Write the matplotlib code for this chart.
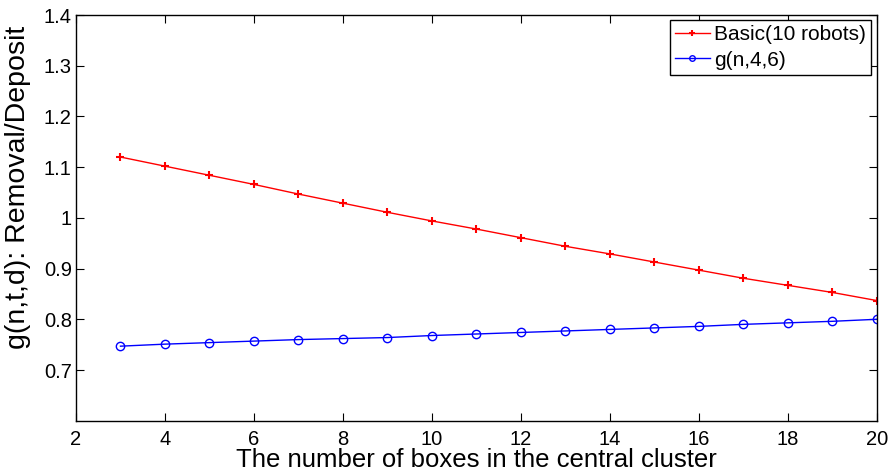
import numpy as np
import matplotlib
matplotlib.use('Agg')
import matplotlib.pyplot as plt

plt.rcParams['font.family'] = ['Liberation Sans', 'DejaVu Sans']

boxes = np.arange(3, 21)
basic = [1.120, 1.102, 1.084, 1.066, 1.047, 1.029, 1.011, 0.994, 0.978,
         0.961, 0.944, 0.929, 0.913, 0.897, 0.881, 0.867, 0.853, 0.837]
g46 = [0.747, 0.751, 0.754, 0.757, 0.760, 0.762, 0.764, 0.768, 0.771,
       0.774, 0.777, 0.780, 0.783, 0.786, 0.790, 0.793, 0.796, 0.800]

fig = plt.figure(figsize=(8.93, 4.75), dpi=100)
ax = fig.add_axes([0.0851, 0.1143, 0.8966, 0.854])

ax.plot(boxes, basic, 'r-+', lw=1, ms=6, mew=1.5, label='Basic(10 robots)')
ax.plot(boxes, g46, 'b-o', lw=1, ms=6, mfc='none', mew=1, label='g(n,4,6)')

ax.set_xlim(2, 20)
ax.set_ylim(0.6, 1.4)
ax.set_xticks(np.arange(2, 21, 2))
ax.set_yticks([0.7, 0.8, 0.9, 1.0, 1.1, 1.2, 1.3, 1.4])
ax.set_yticklabels(['0.7', '0.8', '0.9', '1', '1.1', '1.2', '1.3', '1.4'])
ax.tick_params(direction='in', top=True, right=True, labelsize=14.5, length=6)
ax.tick_params(axis='x', pad=7)
ax.tick_params(axis='y', pad=3)
for s in ax.spines.values():
    s.set_linewidth(1)

ax.set_xlabel('The number of boxes in the central cluster', fontsize=18.5, labelpad=-1)
ax.set_ylabel('g(n,t,d): Removal/Deposit', fontsize=20.5)
ax.yaxis.set_label_coords(-0.056, 0.574)

leg = ax.legend(loc='upper right', fontsize=15, fancybox=False, framealpha=1,
                edgecolor='black', borderaxespad=0.25, handlelength=1.7,
                borderpad=0.25, labelspacing=0.3, handletextpad=0.2)
leg.get_frame().set_linewidth(1)
for h in leg.legend_handles:
    h.set_markersize(4)

fig.savefig('out.png', dpi=100)
